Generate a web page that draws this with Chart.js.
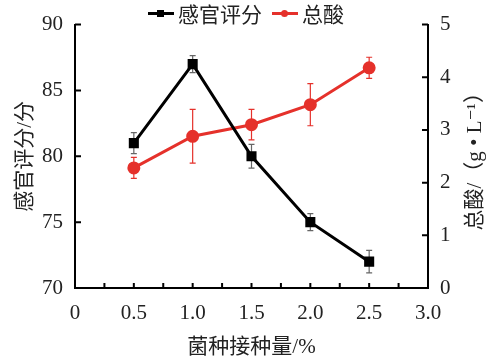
<!DOCTYPE html>
<html>
<head>
<meta charset="utf-8">
<script src="https://cdn.jsdelivr.net/npm/chart.js@4.4.1/dist/chart.umd.min.js"></script>
<style>
    body { margin: 0; background: #fff; }
    #wrap { position: relative; width: 490px; height: 364px; }
    #legend {
        position: absolute; top: 1px; left: 148px; height: 24px;
        display: flex; align-items: center;
        font-family: 'Times New Roman', 'Liberation Serif', 'DejaVu Serif', 'Noto Sans CJK SC', serif;
        font-size: 21px; color: #222;
    }
    .item { display: flex; align-items: center; margin-right: 4px; }
    .ln { position: relative; width: 26px; height: 3px; margin-right: 4px; }
    .mk { position: absolute; left: 9px; top: -2px; width: 7px; height: 7px; }
</style>
</head>
<body>
<div id="wrap">
    <canvas id="chart"></canvas>
    <div id="legend"></div>
</div>
<script>
const doses = [0.5, 1.0, 1.5, 2.0, 2.5];
const seriesNames = ['感官评分', '总酸'];
const sensoryScore = [81.0, 87.0, 80.0, 75.0, 72.0];
const sensoryErr = [0.8, 0.65, 0.9, 0.65, 0.85];
const totalAcid = [2.28, 2.88, 3.1, 3.48, 4.18];
const acidErr = [0.2, 0.51, 0.29, 0.4, 0.2];
const xTitle = '菌种接种量/%';
const leftTitle = '感官评分/分';
const rightTitle = '总酸/（g • L⁻¹）';

const FONT = "'Times New Roman', 'Liberation Serif', 'DejaVu Serif', 'Noto Sans CJK SC', serif";
const TEXT = '#222';

// error bars drawn under the markers
const errorBars = {
    id: 'errorBars',
    beforeDatasetsDraw(chart) {
        const ctx = chart.ctx;
        chart.data.datasets.forEach(function(ds, i) {
            const meta = chart.getDatasetMeta(i);
            const ys = chart.scales[ds.yAxisID];
            ctx.save();
            ctx.strokeStyle = ds.errColor;
            ctx.lineWidth = 1.2;
            meta.data.forEach(function(pt, j) {
                const v = ds.data[j].y;
                const e = ds.errors[j];
                const t = ys.getPixelForValue(v + e);
                const b = ys.getPixelForValue(v - e);
                ctx.beginPath();
                ctx.moveTo(pt.x, t); ctx.lineTo(pt.x, b);
                ctx.moveTo(pt.x - 3, t); ctx.lineTo(pt.x + 3, t);
                ctx.moveTo(pt.x - 3, b); ctx.lineTo(pt.x + 3, b);
                ctx.stroke();
            });
            ctx.restore();
        });
    }
};

// tick marks pointing into the plot, plus the right axis title
const axisExtras = {
    id: 'axisExtras',
    afterDraw(chart) {
        const ctx = chart.ctx;
        const a = chart.chartArea;
        ctx.save();
        ctx.strokeStyle = '#000';
        ctx.lineWidth = 2;
        ctx.beginPath();
        chart.scales.x.ticks.forEach(function(t) {
            const px = chart.scales.x.getPixelForValue(t.value);
            if (t.value === 0 || t.value === 3) return;
            ctx.moveTo(px, a.bottom); ctx.lineTo(px, a.bottom - 5);
        });
        chart.scales.y.ticks.forEach(function(t) {
            const py = chart.scales.y.getPixelForValue(t.value);
            if (t.value === 70) return;
            ctx.moveTo(a.left, py); ctx.lineTo(a.left + 6, py);
        });
        chart.scales.y1.ticks.forEach(function(t) {
            const py = chart.scales.y1.getPixelForValue(t.value);
            if (t.value === 0) return;
            ctx.moveTo(a.right, py); ctx.lineTo(a.right - 6, py);
        });
        ctx.stroke();

        ctx.translate(475, (a.top + a.bottom) / 2);
        ctx.rotate(-Math.PI / 2);
        ctx.fillStyle = TEXT;
        ctx.font = '21px ' + FONT;
        ctx.textAlign = 'center';
        ctx.textBaseline = 'middle';
        ctx.fillText(rightTitle, 0, 0);
        ctx.restore();
    }
};

function pairs(ys) {
    return doses.map(function(x, i) { return { x: x, y: ys[i] }; });
}

const chart = new Chart(document.getElementById('chart'), {
    type: 'line',
    data: {
        datasets: [
            {
                label: seriesNames[0],
                data: pairs(sensoryScore),
                errors: sensoryErr,
                errColor: '#666',
                yAxisID: 'y',
                borderColor: '#000',
                backgroundColor: '#000',
                borderWidth: 3,
                pointStyle: 'rect',
                pointRadius: 5,
                tension: 0
            },
            {
                label: seriesNames[1],
                data: pairs(totalAcid),
                errors: acidErr,
                errColor: '#e5312b',
                yAxisID: 'y1',
                borderColor: '#e5312b',
                backgroundColor: '#e5312b',
                borderWidth: 3,
                pointStyle: 'circle',
                pointRadius: 5,
                tension: 0
            }
        ]
    },
    options: {
        responsive: true,
        maintainAspectRatio: false,
        animation: false,
        layout: { padding: { top: 12, left: 0, right: 0, bottom: 0 } },
        plugins: {
            legend: { display: false },
            tooltip: { enabled: false }
        },
        scales: {
            x: {
                type: 'linear',
                min: 0,
                max: 3,
                afterFit(scale) { scale.height = 76; },
                grid: { display: false, drawTicks: false },
                border: { display: true, color: '#000', width: 2 },
                ticks: {
                    stepSize: 0.25,
                    autoSkip: false,
                    maxRotation: 0,
                    padding: 13,
                    color: TEXT,
                    font: { family: FONT, size: 21 },
                    callback: function(v) {
                        if (Math.abs(v * 2 - Math.round(v * 2)) > 1e-6) return '';
                        return v === 0 ? '0' : v.toFixed(1);
                    }
                },
                title: {
                    display: true,
                    text: xTitle,
                    color: TEXT,
                    font: { family: FONT, size: 21 },
                    padding: { top: 4 }
                }
            },
            y: {
                position: 'left',
                min: 70,
                max: 90,
                afterFit(scale) { scale.width = 75; },
                grid: { display: false, drawTicks: false },
                border: { display: true, color: '#000', width: 2 },
                ticks: {
                    stepSize: 5,
                    padding: 12,
                    color: TEXT,
                    font: { family: FONT, size: 21 }
                },
                title: {
                    display: true,
                    text: leftTitle,
                    color: TEXT,
                    font: { family: FONT, size: 21 },
                    padding: { top: 13 }
                }
            },
            y1: {
                position: 'right',
                min: 0,
                max: 5,
                afterFit(scale) { scale.width = 62; },
                grid: { display: false, drawTicks: false },
                border: { display: true, color: '#000', width: 2 },
                ticks: {
                    stepSize: 1,
                    padding: 12,
                    color: TEXT,
                    font: { family: FONT, size: 21 }
                }
            }
        }
    },
    plugins: [errorBars, axisExtras]
});

// html legend from the chart's own datasets
const legend = document.getElementById('legend');
chart.data.datasets.forEach(function(ds, i) {
    const item = document.createElement('div');
    item.className = 'item';
    if (i > 0) item.style.marginLeft = '6px';
    const ln = document.createElement('span');
    ln.className = 'ln';
    ln.style.background = ds.borderColor;
    const mk = document.createElement('span');
    mk.className = 'mk';
    mk.style.background = ds.borderColor;
    if (ds.pointStyle === 'circle') mk.style.borderRadius = '50%';
    ln.appendChild(mk);
    const tx = document.createElement('span');
    tx.textContent = ds.label;
    item.appendChild(ln);
    item.appendChild(tx);
    legend.appendChild(item);
});
</script>
</body>
</html>
